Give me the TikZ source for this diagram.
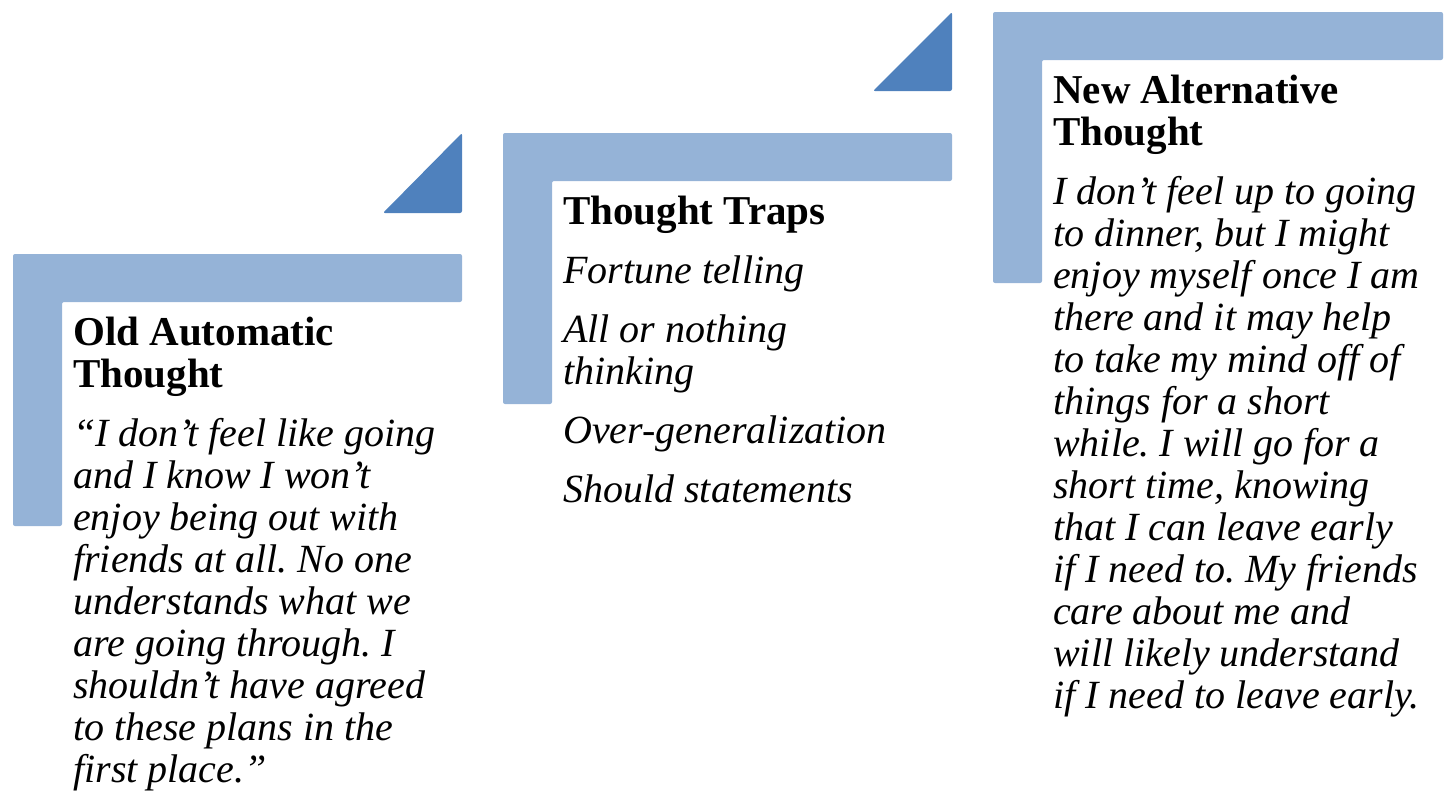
\documentclass[tikz,border=0pt]{standalone}
\usepackage{fontspec}
\setmainfont{Liberation Serif}
\frenchspacing
\definecolor{barblue}{RGB}{149,179,215}
\definecolor{riserblue}{RGB}{79,129,189}
\newcommand{\stephead}[1]{\textbf{\fontsize{41}{42}\selectfont #1}}
\begin{document}
\begin{tikzpicture}[x=1pt,y=-1pt,
  bar/.style={fill=barblue, rounded corners=2pt},
  riser/.style={fill=riserblue, rounded corners=2pt},
  steptext/.style={anchor=base west, inner sep=0pt, align=left,
    font=\fontsize{40}{42}\selectfont}]
\useasboundingbox (0,0) rectangle (1448,790);

% L-shaped step brackets
\path[bar] (13,254) -- (462,254) -- (462,302) -- (62,302) -- (62,526) -- (13,526) -- cycle;
\path[bar] (503,133) -- (952,133) -- (952,181) -- (552,181) -- (552,404) -- (503,404) -- cycle;
\path[bar] (993,12) -- (1443,12) -- (1443,60) -- (1042,60) -- (1042,283) -- (993,283) -- cycle;

% rising triangles between the steps
\path[riser] (383,213) -- (462,213) -- (462,133) -- cycle;
\path[riser] (873,91) -- (952,91) -- (952,12) -- cycle;

% each text block is placed by the baseline of its last line
\node[steptext] (old) at (73,782) {%
  \stephead{Old Automatic}\\
  \stephead{Thought}\\[17pt]
  \textit{“I don’t feel like going}\\
  \textit{and I know I won’t}\\
  \textit{enjoy being out with}\\
  \textit{friends at all. No one}\\
  \textit{understands what we}\\
  \textit{are going through. I}\\
  \textit{shouldn’t have agreed}\\
  \textit{to these plans in the}\\
  \textit{first place.”}};

\node[steptext] (traps) at (563,502) {%
  \stephead{Thought Traps}\\[17pt]
  \textit{Fortune telling}\\[17pt]
  \textit{All or nothing}\\
  \textit{thinking}\\[17pt]
  \textit{Over-generalization}\\[17pt]
  \textit{Should statements}};

\node[steptext] (new) at (1053,708) {%
  \stephead{New Alternative}\\
  \stephead{Thought}\\[17pt]
  \textit{I don’t feel up to going}\\
  \textit{to dinner, but I might}\\
  \textit{enjoy myself once I am}\\
  \textit{there and it may help}\\
  \textit{to take my mind off of}\\
  \textit{things for a short}\\
  \textit{while. I will go for a}\\
  \textit{short time, knowing}\\
  \textit{that I can leave early}\\
  \textit{if I need to. My friends}\\
  \textit{care about me and}\\
  \textit{will likely understand}\\
  \textit{if I need to leave early.}};
\end{tikzpicture}
\end{document}
